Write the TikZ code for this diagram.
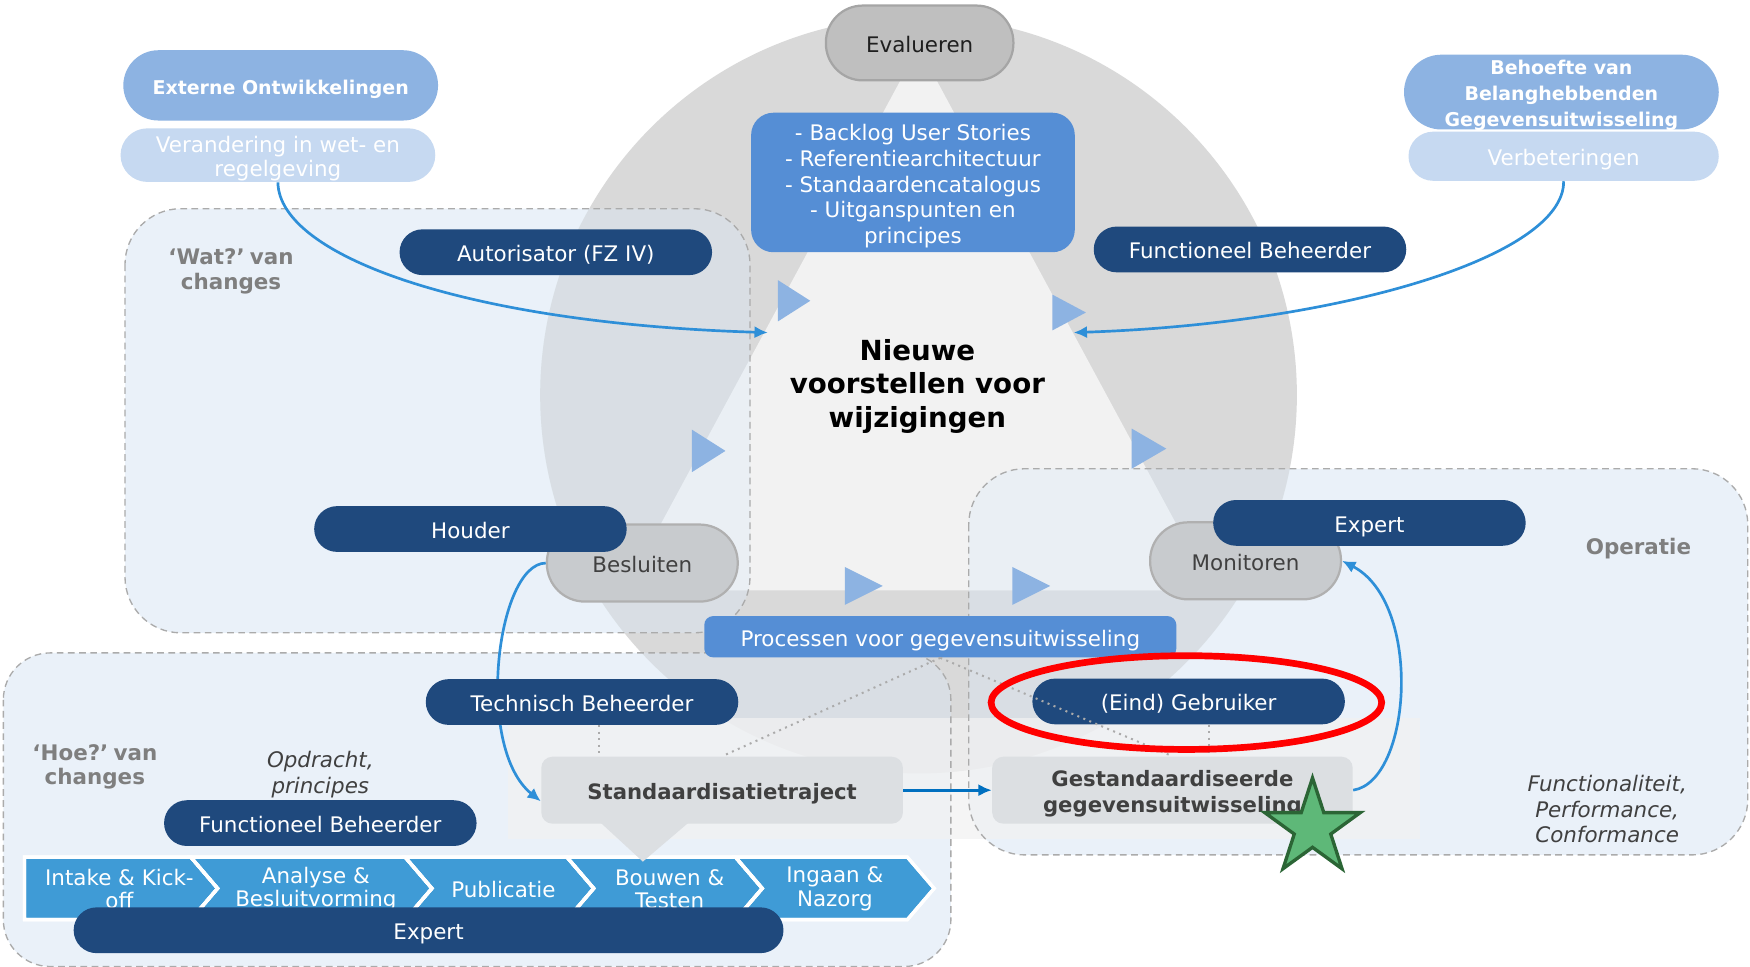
\documentclass[tikz,border=0pt]{standalone}
\usepackage{fontspec}
\setmainfont{DejaVu Sans}
\usetikzlibrary{arrows.meta,shapes.geometric,calc}
\pgfdeclarelayer{back}
\pgfdeclarelayer{mid}
\pgfsetlayers{back,mid,main}

\newcommand\ftReg{\fontsize{9.6}{11.5}\selectfont}
\newcommand\ftTwo{\fontsize{9.6}{11}\selectfont}
\newcommand\ftSrc{\fontsize{8.5}{11.5}\selectfont\bfseries}
\newcommand\ftBold{\fontsize{9.5}{11.5}\selectfont\bfseries}
\newcommand\ftLbl{\fontsize{9.6}{11}\selectfont\bfseries}
\newcommand\ftBig{\fontsize{12.4}{15}\selectfont\bfseries}
\newcommand\ftIt{\fontsize{9.6}{11.5}\selectfont\itshape}
\newcommand\ftChev{\fontsize{9.6}{10.5}\selectfont}

\definecolor{dkblue}{HTML}{1F497D}
\definecolor{midblue}{HTML}{558ED5}
\definecolor{ltblue}{HTML}{8DB3E2}
\definecolor{paleblue}{HTML}{C6D9F1}
\definecolor{chevblue}{HTML}{3F9BD6}
\definecolor{arrblue}{HTML}{2E8FD8}
\definecolor{arrdark}{HTML}{0070C0}
\definecolor{circgray}{HTML}{D9D9D9}
\definecolor{trigray}{HTML}{F2F2F2}
\definecolor{boxblue}{HTML}{D9E7F5}
\definecolor{ovgray}{HTML}{DCDCDC}
\definecolor{ovlight}{HTML}{F0F5FA}
\definecolor{dashgray}{HTML}{ABABAB}
\definecolor{evalgray}{HTML}{BFBFBF}
\definecolor{evalborder}{HTML}{A5A5A5}
\definecolor{nodegray}{HTML}{C8CBCE}
\definecolor{nodeborder}{HTML}{B0B0B0}
\definecolor{stdgray}{HTML}{DCDFE2}
\definecolor{txtdark}{HTML}{404040}
\definecolor{txtgray}{HTML}{7F7F7F}
\definecolor{stargreen}{HTML}{5EB878}
\definecolor{starborder}{HTML}{2B6535}

\tikzset{
  tline/.style={text height=10pt, text depth=1.6pt},
  pill/.style={fill=dkblue, text=white, rounded corners=10.25pt, minimum width=140pt,
    minimum height=20.5pt, inner sep=0pt, font=\ftReg, tline},
  stage/.style={fill=nodegray, draw=nodeborder, line width=1pt, rounded corners=17pt,
    minimum width=85.5pt, minimum height=34.5pt, inner sep=0pt, text=txtdark, font=\ftReg, tline},
  srcpill/.style={fill=ltblue, text=white, inner sep=0pt, font=\ftSrc, align=center,
    minimum width=141pt},
  subpill/.style={fill=paleblue, text=white, inner sep=0pt, font=\ftTwo, align=center},
  zone/.style={fill=boxblue, fill opacity=0.55},
  zoneline/.style={draw=dashgray, line width=0.6pt, dash pattern=on 3pt off 2pt},
  arr/.style={draw=arrblue, line width=1.2pt, -{Latex[length=6pt,width=5.5pt]}},
  marker/.style={fill=ltblue},
  chev/.style={fill=chevblue, draw=white, line width=1.5pt, line join=miter},
  chevtext/.style={text=white, font=\ftChev, align=center, inner sep=0pt},
  dotline/.style={draw=dashgray, line width=0.9pt, dotted},
  result/.style={fill=stdgray, rounded corners=5pt, minimum width=162pt, minimum height=30pt,
    inner sep=0pt, text=txtdark, font=\ftBold, align=center},
  lbl/.style={text=txtgray, font=\ftLbl, align=center, inner sep=0pt},
  itnote/.style={text=txtdark, font=\ftIt, align=center, inner sep=0pt},
  intext/.style={inner sep=0pt, align=center}
}

\begin{document}
\begin{tikzpicture}[x=0.5pt,y=-0.5pt]
\useasboundingbox (0,0) rectangle (1568,866);

\begin{pgfonlayer}{back}
  \fill[white] (0,0) rectangle (1568,866);
  % big circle and inner triangle
  \fill[circgray] (823,354) circle[radius=169.5pt];
  \fill[trigray] (823,42) -- (1086,529) -- (560,529) -- cycle;
  % zones
  \fill[zone, rounded corners=25pt] (112,187) rectangle (672,567);
  \fill[zone, rounded corners=21pt] (3,585) rectangle (852,866);
  \fill[zone, rounded corners=25pt] (868,420) rectangle (1566,766);
  % soften the tint where zones cover the circle
  \begin{scope}
    \clip[rounded corners=25pt] (112,187) rectangle (672,567) (868,420) rectangle (1566,766)
      [rounded corners=21pt] (3,585) rectangle (852,866);
    \fill[ovgray, fill opacity=0.3] (823,354) circle[radius=169.5pt];
    \fill[ovlight, fill opacity=0.6] (823,42) -- (1086,529) -- (560,529) -- cycle;
  \end{scope}
  % pale band behind results
  \fill[trigray, fill opacity=0.75] (455,643) rectangle (1272,752);
  % zone borders
  \draw[zoneline, rounded corners=25pt] (112,187) rectangle (672,567);
  \draw[zoneline, rounded corners=21pt] (3,585) rectangle (852,866);
  \draw[zoneline, rounded corners=25pt] (868,420) rectangle (1566,766);
  % cycle markers
  \fill[marker] (697,251) -- (697,288) -- (726,269.5) -- cycle;
  \fill[marker] (943,264) -- (943,296) -- (973,280) -- cycle;
  \fill[marker] (620,385) -- (620,423) -- (650,404) -- cycle;
  \fill[marker] (1014,384) -- (1014,420) -- (1045,402) -- cycle;
  \fill[marker] (757,508) -- (757,542) -- (791,525) -- cycle;
  \fill[marker] (907,508) -- (907,542) -- (941,525) -- cycle;
\end{pgfonlayer}

% cycle stages
\node[fill=evalgray, draw=evalborder, line width=1pt, rounded corners=16.5pt,
  minimum width=84pt, minimum height=33.5pt, inner sep=0pt, font=\ftReg, text=black!88, tline]
  (eval) at (824,38.5) {Evalueren};
\node[stage] (besl) at (575.5,504.5) {Besluiten};
\node[stage] (moni) at (1116,502.5) {Monitoren};

% central list
\node[fill=midblue, rounded corners=10pt, minimum width=145pt, minimum height=62.5pt,
  inner sep=0pt] (lists) at (818,163.5) {};
\node[intext, text=white, font=\ftReg] (lists-t) at ([yshift=-1.75pt]lists.center)
  {- Backlog User Stories\\- Referentiearchitectuur\\- Standaardencatalogus\\- Uitganspunten en\\principes};

\node[font=\ftBig, align=center, text=black, inner sep=0pt] (nieuw) at (822,346)
  {Nieuwe\\voorstellen voor\\wijzigingen};

% sources
\node[srcpill, rounded corners=15.75pt, minimum height=31.5pt, tline] (ext) at (251.5,76.5)
  {Externe Ontwikkelingen};
\node[subpill, rounded corners=12pt, minimum width=141pt, minimum height=24pt]
  (veran) at (249,139) {};
\node[intext, text=white, font=\ftTwo] (veran-t) at ([yshift=-1.5pt]veran.center)
  {Verandering in wet- en\\regelgeving};
\node[srcpill, rounded corners=16.75pt, minimum height=33.5pt] (behoefte) at (1399,82.5) {};
\node[intext, text=white, font=\ftSrc] (behoefte-t) at ([yshift=-1.5pt]behoefte.center)
  {Behoefte van\\Belanghebbenden\\Gegevensuitwisseling};
\node[subpill, rounded corners=11pt, minimum width=139pt, minimum height=22pt, tline] (verb) at (1401,140)
  {Verbeteringen};

% roles
\node[pill] (autor) at (498,226) {Autorisator (FZ IV)};
\node[pill] (fbtop) at (1120,223.5) {Functioneel Beheerder};
\node[pill] (houder) at (421.5,474) {Houder};
\node[pill] (exptop) at (1227,468.5) {Expert};

% labels
\node[lbl] (wat) at (207,243) {‘Wat?’\kern-1pt\ van\\changes};
\node[lbl] (hoe) at (85,687) {‘Hoe?’\kern-1pt\ van\\changes};
\node[lbl, tline] (oper) at (1468,488) {Operatie};
\node[itnote] (opdr) at (287,694) {Opdracht,\\principes};
\node[itnote] (func) at (1440,725) {Functionaliteit,\\Performance,\\Conformance};

% processes
\node[fill=midblue, rounded corners=4pt, minimum width=211.5pt, minimum height=18.5pt,
  inner sep=0pt, text=white, font=\ftReg, tline] (proc) at (842.5,570.5)
  {Processen voor gegevensuitwisseling};
\node[pill] (techn) at (521.5,629) {Technisch Beheerder};
\node[pill] (eind) at (1065,628.5) {(Eind) Gebruiker};

% chevron bar
\fill[chev] (22,768) -- (171,768) -- (195,796) -- (171,824) -- (22,824) -- cycle;
\fill[chev] (171,768) -- (363,768) -- (387,796) -- (363,824) -- (171,824) -- (195,796) -- cycle;
\fill[chev] (363,768) -- (508,768) -- (532,796) -- (508,824) -- (363,824) -- (387,796) -- cycle;
\fill[chev] (508,768) -- (659,768) -- (683,796) -- (659,824) -- (508,824) -- (532,796) -- cycle;
\fill[chev] (659,768) -- (813,768) -- (837,796) -- (813,824) -- (659,824) -- (683,796) -- cycle;
\draw[chev, fill=none] (22,768) -- (171,768) -- (195,796) -- (171,824) -- (22,824) -- cycle;
\draw[chev, fill=none] (171,768) -- (363,768) -- (387,796) -- (363,824) -- (171,824) -- (195,796) -- cycle;
\draw[chev, fill=none] (363,768) -- (508,768) -- (532,796) -- (508,824) -- (363,824) -- (387,796) -- cycle;
\draw[chev, fill=none] (508,768) -- (659,768) -- (683,796) -- (659,824) -- (508,824) -- (532,796) -- cycle;
\draw[chev, fill=none] (659,768) -- (813,768) -- (837,796) -- (813,824) -- (659,824) -- (683,796) -- cycle;
\node[chevtext] (ch1) at (107,796.5) {Intake \& Kick-\\off};
\node[chevtext] (ch2) at (283,796.5) {Analyse \&\\Besluitvorming};
\node[chevtext, tline] (ch3) at (451,796) {Publicatie};
\node[chevtext] (ch4) at (600,796.5) {Bouwen \&\\Testen};
\node[chevtext] (ch5) at (748,796.5) {Ingaan \&\\Nazorg};

\node[pill] (fbbot) at (287,737.5) {Functioneel Beheerder};
\node[pill, minimum width=318pt] (expbot) at (384,833.5) {Expert};

% results
\fill[stdgray] (538,737) -- (576,772) -- (617,737) -- cycle;
\node[result, tline] (std) at (647,708) {Standaardisatietraject};
\node[result, minimum width=161.5pt] (gest) at (1050.5,708) {};
\node[intext, text=txtdark, font=\ftBold] (gest-t) at ([yshift=-1.5pt]gest.center)
  {Gestandaardiseerde\\gegevensuitwisseling};

% dotted callout lines
\draw[dotline] (proc.south) -- (std.north);
\draw[dotline] (proc.south) -- (gest.north);
\draw[dotline] ([xshift=7.5pt]techn.south) -- ([xshift=7.5pt]techn.south |- std.north);
\draw[dotline] ([xshift=9pt]eind.south) -- ([xshift=9pt]eind.south |- gest.north);

% free ends of incoming arrows
\coordinate (nA) at (688,298);
\coordinate (nB) at (962,298);

\begin{pgfonlayer}{mid}
  \draw[arr] (veran.south) .. controls (250,230) and (420,290) .. (nA);
  \draw[arr] (verb.south) .. controls (1402,230) and (1200,290) .. (nB);
  \draw[arr] (besl.west) .. controls (445,505) and (425,670) .. ([yshift=-5pt]std.west);
  \draw[arr, draw=arrdark] (std.east) -- (gest.west);
  \draw[arr] (gest.east) .. controls (1265,700) and (1275,540) .. (moni.east);
\end{pgfonlayer}

% highlight
\node[ellipse, draw=red, line width=3pt, minimum width=175pt, minimum height=42pt, inner sep=0pt]
  (ring) at (1063,629.5) {};
\node[star, star points=5, star point ratio=2.618, minimum size=45pt, inner sep=0pt,
  fill=stargreen, draw=starborder, line width=1.5pt] (ster) at (1176,742) {};

\end{tikzpicture}
\end{document}
